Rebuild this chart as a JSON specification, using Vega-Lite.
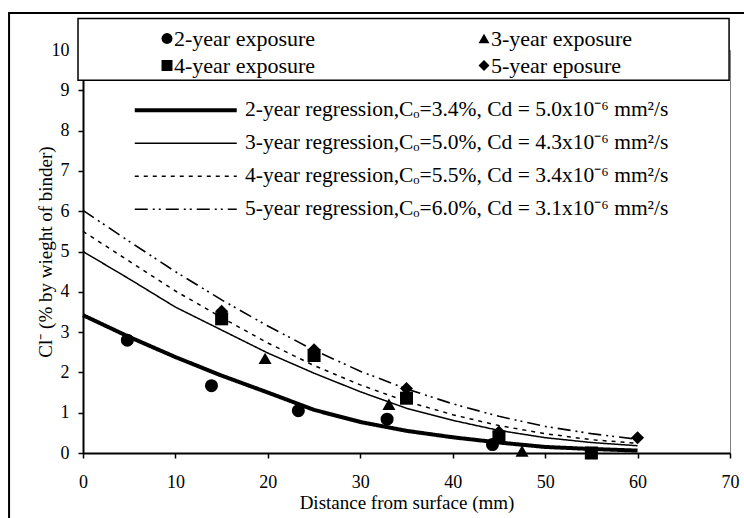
{
  "$schema": "https://vega.github.io/schema/vega-lite/v6.json",
  "width": 647,
  "height": 403,
  "autosize": {"type": "none"},
  "padding": {"left": 83, "top": 50, "right": 14, "bottom": 65},
  "background": "white",
  "config": {
    "font": "Liberation Serif, Times New Roman, serif",
    "view": {"stroke": "#808080", "strokeWidth": 1},
    "axis": {
      "grid": false,
      "domainColor": "black",
      "domainWidth": 2,
      "tickColor": "black",
      "tickWidth": 1.5,
      "tickSize": 5,
      "labelColor": "black",
      "labelFontSize": 18,
      "labelFont": "Liberation Serif, Times New Roman, serif",
      "labelFlush": false,
      "titleColor": "black",
      "titleFontSize": 19,
      "titleFontWeight": "normal",
      "titleFont": "Liberation Serif, Times New Roman, serif"
    }
  },
  "datasets": {
    "curves": [
      {"fit": "2-year regression,Cₒ=3.4%, Cd = 5.0x10⁻⁶ mm²/s", "x": 0, "c": 3.42},
      {"fit": "2-year regression,Cₒ=3.4%, Cd = 5.0x10⁻⁶ mm²/s", "x": 5, "c": 2.88},
      {"fit": "2-year regression,Cₒ=3.4%, Cd = 5.0x10⁻⁶ mm²/s", "x": 10, "c": 2.38},
      {"fit": "2-year regression,Cₒ=3.4%, Cd = 5.0x10⁻⁶ mm²/s", "x": 15, "c": 1.92},
      {"fit": "2-year regression,Cₒ=3.4%, Cd = 5.0x10⁻⁶ mm²/s", "x": 20, "c": 1.5},
      {"fit": "2-year regression,Cₒ=3.4%, Cd = 5.0x10⁻⁶ mm²/s", "x": 25, "c": 1.07},
      {"fit": "2-year regression,Cₒ=3.4%, Cd = 5.0x10⁻⁶ mm²/s", "x": 30, "c": 0.77},
      {"fit": "2-year regression,Cₒ=3.4%, Cd = 5.0x10⁻⁶ mm²/s", "x": 35, "c": 0.55},
      {"fit": "2-year regression,Cₒ=3.4%, Cd = 5.0x10⁻⁶ mm²/s", "x": 40, "c": 0.39},
      {"fit": "2-year regression,Cₒ=3.4%, Cd = 5.0x10⁻⁶ mm²/s", "x": 45, "c": 0.26},
      {"fit": "2-year regression,Cₒ=3.4%, Cd = 5.0x10⁻⁶ mm²/s", "x": 50, "c": 0.15},
      {"fit": "2-year regression,Cₒ=3.4%, Cd = 5.0x10⁻⁶ mm²/s", "x": 55, "c": 0.1},
      {"fit": "2-year regression,Cₒ=3.4%, Cd = 5.0x10⁻⁶ mm²/s", "x": 60, "c": 0.06},
      {"fit": "3-year regression,Cₒ=5.0%, Cd = 4.3x10⁻⁶ mm²/s", "x": 0, "c": 5.0},
      {"fit": "3-year regression,Cₒ=5.0%, Cd = 4.3x10⁻⁶ mm²/s", "x": 5, "c": 4.32},
      {"fit": "3-year regression,Cₒ=5.0%, Cd = 4.3x10⁻⁶ mm²/s", "x": 10, "c": 3.62},
      {"fit": "3-year regression,Cₒ=5.0%, Cd = 4.3x10⁻⁶ mm²/s", "x": 15, "c": 3.05},
      {"fit": "3-year regression,Cₒ=5.0%, Cd = 4.3x10⁻⁶ mm²/s", "x": 20, "c": 2.48},
      {"fit": "3-year regression,Cₒ=5.0%, Cd = 4.3x10⁻⁶ mm²/s", "x": 25, "c": 1.98},
      {"fit": "3-year regression,Cₒ=5.0%, Cd = 4.3x10⁻⁶ mm²/s", "x": 30, "c": 1.52},
      {"fit": "3-year regression,Cₒ=5.0%, Cd = 4.3x10⁻⁶ mm²/s", "x": 35, "c": 1.11},
      {"fit": "3-year regression,Cₒ=5.0%, Cd = 4.3x10⁻⁶ mm²/s", "x": 40, "c": 0.81},
      {"fit": "3-year regression,Cₒ=5.0%, Cd = 4.3x10⁻⁶ mm²/s", "x": 45, "c": 0.56},
      {"fit": "3-year regression,Cₒ=5.0%, Cd = 4.3x10⁻⁶ mm²/s", "x": 50, "c": 0.38},
      {"fit": "3-year regression,Cₒ=5.0%, Cd = 4.3x10⁻⁶ mm²/s", "x": 55, "c": 0.26},
      {"fit": "3-year regression,Cₒ=5.0%, Cd = 4.3x10⁻⁶ mm²/s", "x": 60, "c": 0.18},
      {"fit": "4-year regression,Cₒ=5.5%, Cd = 3.4x10⁻⁶ mm²/s", "x": 0, "c": 5.5},
      {"fit": "4-year regression,Cₒ=5.5%, Cd = 3.4x10⁻⁶ mm²/s", "x": 5, "c": 4.76},
      {"fit": "4-year regression,Cₒ=5.5%, Cd = 3.4x10⁻⁶ mm²/s", "x": 10, "c": 4.02},
      {"fit": "4-year regression,Cₒ=5.5%, Cd = 3.4x10⁻⁶ mm²/s", "x": 15, "c": 3.36},
      {"fit": "4-year regression,Cₒ=5.5%, Cd = 3.4x10⁻⁶ mm²/s", "x": 20, "c": 2.73},
      {"fit": "4-year regression,Cₒ=5.5%, Cd = 3.4x10⁻⁶ mm²/s", "x": 25, "c": 2.17},
      {"fit": "4-year regression,Cₒ=5.5%, Cd = 3.4x10⁻⁶ mm²/s", "x": 30, "c": 1.69},
      {"fit": "4-year regression,Cₒ=5.5%, Cd = 3.4x10⁻⁶ mm²/s", "x": 35, "c": 1.28},
      {"fit": "4-year regression,Cₒ=5.5%, Cd = 3.4x10⁻⁶ mm²/s", "x": 40, "c": 0.95},
      {"fit": "4-year regression,Cₒ=5.5%, Cd = 3.4x10⁻⁶ mm²/s", "x": 45, "c": 0.68},
      {"fit": "4-year regression,Cₒ=5.5%, Cd = 3.4x10⁻⁶ mm²/s", "x": 50, "c": 0.48},
      {"fit": "4-year regression,Cₒ=5.5%, Cd = 3.4x10⁻⁶ mm²/s", "x": 55, "c": 0.33},
      {"fit": "4-year regression,Cₒ=5.5%, Cd = 3.4x10⁻⁶ mm²/s", "x": 60, "c": 0.24},
      {"fit": "5-year regression,Cₒ=6.0%, Cd = 3.1x10⁻⁶ mm²/s", "x": 0, "c": 6.02},
      {"fit": "5-year regression,Cₒ=6.0%, Cd = 3.1x10⁻⁶ mm²/s", "x": 5, "c": 5.25},
      {"fit": "5-year regression,Cₒ=6.0%, Cd = 3.1x10⁻⁶ mm²/s", "x": 10, "c": 4.5},
      {"fit": "5-year regression,Cₒ=6.0%, Cd = 3.1x10⁻⁶ mm²/s", "x": 15, "c": 3.8},
      {"fit": "5-year regression,Cₒ=6.0%, Cd = 3.1x10⁻⁶ mm²/s", "x": 20, "c": 3.15},
      {"fit": "5-year regression,Cₒ=6.0%, Cd = 3.1x10⁻⁶ mm²/s", "x": 25, "c": 2.55},
      {"fit": "5-year regression,Cₒ=6.0%, Cd = 3.1x10⁻⁶ mm²/s", "x": 30, "c": 2.03},
      {"fit": "5-year regression,Cₒ=6.0%, Cd = 3.1x10⁻⁶ mm²/s", "x": 35, "c": 1.59},
      {"fit": "5-year regression,Cₒ=6.0%, Cd = 3.1x10⁻⁶ mm²/s", "x": 40, "c": 1.22},
      {"fit": "5-year regression,Cₒ=6.0%, Cd = 3.1x10⁻⁶ mm²/s", "x": 45, "c": 0.91},
      {"fit": "5-year regression,Cₒ=6.0%, Cd = 3.1x10⁻⁶ mm²/s", "x": 50, "c": 0.66},
      {"fit": "5-year regression,Cₒ=6.0%, Cd = 3.1x10⁻⁶ mm²/s", "x": 55, "c": 0.48},
      {"fit": "5-year regression,Cₒ=6.0%, Cd = 3.1x10⁻⁶ mm²/s", "x": 60, "c": 0.34}
    ],
    "points": [
      {"exposure": "2-year exposure", "x": 4.8, "c": 2.8},
      {"exposure": "2-year exposure", "x": 13.9, "c": 1.67},
      {"exposure": "2-year exposure", "x": 23.3, "c": 1.05},
      {"exposure": "2-year exposure", "x": 32.9, "c": 0.84},
      {"exposure": "2-year exposure", "x": 44.3, "c": 0.21},
      {"exposure": "3-year exposure", "x": 19.7, "c": 2.35},
      {"exposure": "3-year exposure", "x": 33.1, "c": 1.21},
      {"exposure": "3-year exposure", "x": 47.5, "c": 0.05},
      {"exposure": "4-year exposure", "x": 15, "c": 3.33},
      {"exposure": "4-year exposure", "x": 25, "c": 2.42},
      {"exposure": "4-year exposure", "x": 35, "c": 1.36},
      {"exposure": "4-year exposure", "x": 45, "c": 0.4},
      {"exposure": "4-year exposure", "x": 55, "c": 0.0},
      {"exposure": "5-year eposure", "x": 15, "c": 3.52},
      {"exposure": "5-year eposure", "x": 25, "c": 2.56},
      {"exposure": "5-year eposure", "x": 35, "c": 1.6},
      {"exposure": "5-year eposure", "x": 45, "c": 0.52},
      {"exposure": "5-year eposure", "x": 60, "c": 0.38}
    ]
  },
  "layer": [
    {
      "data": {"name": "curves"},
      "mark": {"type": "line", "color": "black"},
      "encoding": {
        "x": {
          "field": "x", "type": "quantitative",
          "scale": {"domain": [0, 70], "nice": false, "zero": false},
          "axis": {"title": "Distance from surface (mm)", "values": [0, 10, 20, 30, 40, 50, 60, 70], "labelPadding": 15, "titlePadding": 2}
        },
        "y": {
          "field": "c", "type": "quantitative",
          "scale": {"domain": [0, 10], "nice": false, "zero": false},
          "axis": {"title": "Cl⁻ (% by wieght of binder)", "values": [0, 1, 2, 3, 4, 5, 6, 7, 8, 9, 10], "labelPadding": 9, "titlePadding": -4}
        },
        "strokeDash": {
          "field": "fit", "type": "nominal",
          "scale": {
            "domain": [
              "2-year regression,Cₒ=3.4%, Cd = 5.0x10⁻⁶ mm²/s",
              "3-year regression,Cₒ=5.0%, Cd = 4.3x10⁻⁶ mm²/s",
              "4-year regression,Cₒ=5.5%, Cd = 3.4x10⁻⁶ mm²/s",
              "5-year regression,Cₒ=6.0%, Cd = 3.1x10⁻⁶ mm²/s"
            ],
            "range": [[1, 0], [1, 0], [4, 5], [13, 5, 2, 4, 2, 5]]
          },
          "legend": {
            "title": null, "orient": "none", "legendX": 37, "legendY": 49.5, "padding": 0,
            "rowPadding": 10, "symbolType": "M-8.5,0H8.5", "symbolSize": 144,
            "symbolOffset": 55, "labelOffset": 48.5, "symbolStrokeColor": "black",
            "symbolFillColor": "transparent", "symbolStrokeWidth": 1.5,
            "labelFontSize": 21.5, "labelFont": "Liberation Serif, Times New Roman, serif", "labelColor": "black", "labelLimit": 0,
            "encode": {"symbols": {"update": {"strokeWidth": {"scale": "strokeWidth", "field": "value"}}}}
          }
        },
        "strokeWidth": {
          "field": "fit", "type": "nominal",
          "scale": {
            "type": "ordinal",
            "domain": [
              "2-year regression,Cₒ=3.4%, Cd = 5.0x10⁻⁶ mm²/s",
              "3-year regression,Cₒ=5.0%, Cd = 4.3x10⁻⁶ mm²/s",
              "4-year regression,Cₒ=5.5%, Cd = 3.4x10⁻⁶ mm²/s",
              "5-year regression,Cₒ=6.0%, Cd = 3.1x10⁻⁶ mm²/s"
            ],
            "range": [4, 1.5, 1.5, 1.6]
          },
          "legend": null
        }
      }
    },
    {
      "data": {"values": [{}]},
      "mark": {"type": "rect", "fill": "white", "stroke": "black", "strokeWidth": 1.5},
      "encoding": {
        "x": {"datum": -0.54, "type": "quantitative"},
        "x2": {"datum": 69.9},
        "y": {"datum": 10.78, "type": "quantitative"},
        "y2": {"datum": 9.25}
      }
    },
    {
      "data": {"values": [{}]},
      "mark": {"type": "rect", "fill": "transparent", "stroke": "black", "strokeWidth": 2},
      "encoding": {
        "x": {"datum": -8, "type": "quantitative"},
        "x2": {"datum": 80},
        "y": {"datum": 10.92, "type": "quantitative"},
        "y2": {"datum": -3}
      }
    },
    {
      "data": {"name": "points"},
      "mark": {"type": "point", "filled": true, "color": "black", "opacity": 1, "size": 170},
      "encoding": {
        "x": {"field": "x", "type": "quantitative"},
        "y": {"field": "c", "type": "quantitative"},
        "shape": {
          "field": "exposure", "type": "nominal",
          "scale": {
            "domain": ["2-year exposure", "3-year exposure", "4-year exposure", "5-year eposure"],
            "range": ["circle", "triangle-up", "square", "diamond"]
          },
          "legend": {
            "title": null, "orient": "none", "legendX": 73, "legendY": -22.5, "columns": 2,
            "direction": "horizontal",
            "columnPadding": 157, "rowPadding": 5, "padding": 0, "symbolSize": 120,
            "symbolFillColor": "black", "symbolStrokeColor": "black", "symbolOpacity": 1,
            "labelFontSize": 22, "labelFont": "Liberation Serif, Times New Roman, serif", "labelColor": "black",
            "labelOffset": -4, "labelLimit": 0
          }
        }
      }
    }
  ]
}
